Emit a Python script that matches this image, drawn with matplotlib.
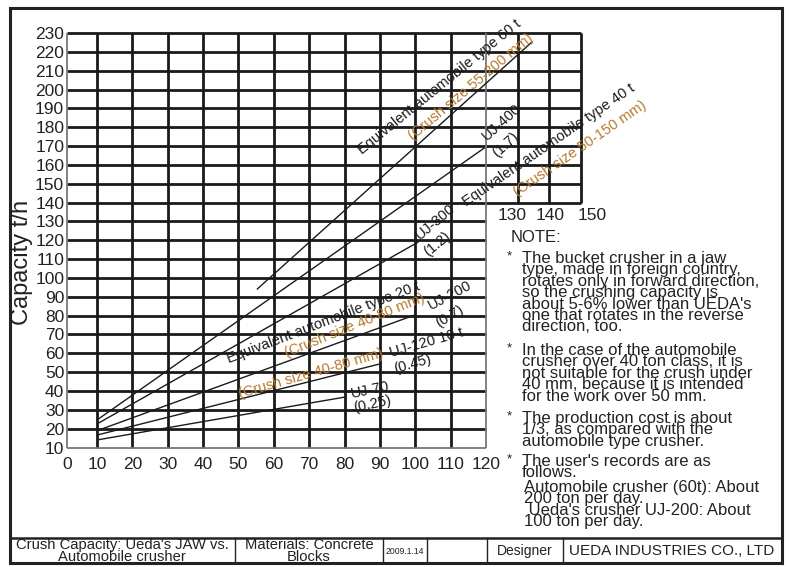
import numpy as np
import matplotlib.pyplot as plt
from matplotlib.lines import Line2D
from matplotlib.patches import Rectangle

plt.rcParams['font.family'] = ['Liberation Sans', 'DejaVu Sans']

# the drawing's x axis is not even: 0-10 is squeezed and so is 120-150
x_breaks = [0, 10, 120, 160]
x_pixels = [0, 30, 419, 545.7]

# crusher capacity lines, start and end points
line_names = ['Auto 60t', 'UJ-400', 'UJ-300', 'UJ-200', 'UJ-120', 'UJ-70']
line_x = [[55.2, 134.7], [10, 119.7], [10, 100.9], [10, 99.8], [10, 90.5], [10, 80.5]]
line_y = [[93.9, 225.5], [24.6, 169.2], [22.5, 119.1], [18.9, 80.3], [16.6, 54.6], [14.0, 36.9]]

x_ticks = list(range(0, 121, 10))
x_ticks_ext = [130, 140, 150]
x_ticks_ext_pos = [128.4, 140.2, 153.5]   # the printed labels sit a bit off the lines
y_ticks = list(range(10, 231, 10))

black = '#1a1a1a'
text_col = '#222222'
orange = '#b77a2d'

# labels along the lines: text, x, y, rotation, colour
line_labels = [
    ("Equivalent automobile type 60 t", 85.0, 165.5, 39, black),
    ("(Crush size 55-200 mm)", 99.4, 173.0, 40, orange),
    ("UJ-400", 120.3, 172.5, 42, black),
    ("(1.7)", 123.5, 164.0, 42, black),
    ("Equivalent automobile type 40 t", 114.4, 138.0, 34.5, black),
    ("(Crush size 50-150 mm)", 129.9, 143.0, 34.5, orange),
    ("UJ-300", 101.3, 120.0, 40, black),
    ("(1.2)", 103.6, 111.5, 40, black),
    ("Equivalent automobile type 20 t", 47.3, 54.8, 21, black),
    ("(Crush size 40-80 mm)", 63.7, 58.0, 22, orange),
    ("UJ-200", 104.4, 82.9, 28, black),
    ("(0.7)", 106.7, 73.9, 30, black),
    ("(Crush size 40-80 mm)", 50.4, 36.2, 16, orange),
    ("UJ-120 10 t", 93.1, 58.0, 16, black),
    ("(0.45)", 94.3, 49.5, 16, black),
    ("UJ-70", 82.1, 36.2, 12, black),
    ("(0.25)", 82.7, 28.8, 12, black),
]

notes = [
    "The bucket crusher in a jaw\ntype, made in foreign country,\nrotates only in forward direction,\n"
    "so the crushing capacity is\nabout 5-6% lower than UEDA's\none that rotates in the reverse\ndirection, too.",
    "In the case of the automobile\ncrusher over 40 ton class, it is\nnot suitable for the crush under\n"
    "40 mm, because it is intended\nfor the work over 50 mm.",
    "The production cost is about\n1/3, as compared with the\nautomobile type crusher.",
    "The user's records are as\nfollows.",
]
records = "Automobile crusher (60t): About\n200 ton per day.\n Ueda's crusher UJ-200: About\n100 ton per day."

footer = [
    ("Crush Capacity: Ueda's JAW vs.\nAutomobile crusher", 122, 10.6),
    ("Materials: Concrete\nBlocks", 309, 10.6),
    ("2009.1.14", 405, 6.2),
    ("Designer", 525, 10),
    ("UEDA INDUSTRIES CO., LTD", 672, 11),
]

W, H = 789, 567
fig = plt.figure(figsize=(W / 100, H / 100), dpi=100)


def fx(px):
    return px / W


def fy(py):
    return 1 - py / H


ax = fig.add_axes([fx(67), fy(447.5), 514 / W, (447.5 - 33) / H])
ax.set_xscale('function', functions=(lambda v: np.interp(v, x_breaks, x_pixels),
                                     lambda p: np.interp(p, x_pixels, x_breaks)))
ax.set_xlim(0, 150)
ax.set_ylim(10, 230)
for s in ax.spines.values():
    s.set_visible(False)

# grid
gw = 2.0
for xv in x_ticks[1:-1]:
    ax.vlines(xv, 10, 230, color=black, lw=gw, clip_on=False, zorder=1)
for xv in x_ticks_ext:
    ax.vlines(xv, 140, 230, color=black, lw=gw, clip_on=False, zorder=1)
for yv in y_ticks[1:]:
    ax.hlines(yv, 0, 150 if yv >= 140 else 120, color=black, lw=gw, clip_on=False, zorder=1)
ax.vlines(120, 10, 230, color='#777777', lw=1.3, clip_on=False, zorder=1)
ax.vlines(0, 10, 230, color='#777777', lw=1.3, clip_on=False, zorder=1)
ax.hlines(10, 0, 120, color='#777777', lw=1.3, clip_on=False, zorder=1)

for name, xs, ys in zip(line_names, line_x, line_y):
    ax.plot(xs, ys, color=black, lw=1.0, zorder=3, solid_capstyle='butt')

for txt, x, y, rot, col in line_labels:
    ax.text(x, y, txt, color=col, fontsize=10.5, rotation=rot, rotation_mode='anchor',
            ha='left', va='baseline', zorder=4)

ax.set_xticks(x_ticks)
ax.set_yticks(y_ticks)
ax.tick_params(length=0, labelsize=12.5, colors=text_col)
ax.tick_params(axis='x', pad=7)
ax.tick_params(axis='y', pad=2)
for xv, xp in zip(x_ticks_ext, x_ticks_ext_pos):
    ax.text(xp, 137.3, str(xv), fontsize=12.5, ha='center', va='top', color=text_col,
            clip_on=False)

fig.text(fx(22), fy(262), "Capacity t/h", rotation=90, fontsize=17, ha='center', va='center',
         color=text_col)

# notes on the right
fig.text(fx(511), fy(242), "NOTE:", fontsize=12, ha='left', va='baseline', color=text_col)
note_tops = [251, 343, 411, 454]
for top, body in zip(note_tops, notes):
    fig.text(fx(507), fy(top - 1), "*", fontsize=9.5, ha='left', va='top', color=text_col)
    fig.text(fx(522), fy(top), body, fontsize=12, ha='left', va='top', linespacing=0.70,
             color=text_col)
fig.text(fx(524), fy(480), records, fontsize=12, ha='left', va='top', linespacing=0.70,
         color=text_col)

# outer frame and title block
fig.add_artist(Rectangle((fx(10), fy(563)), (782 - 10) / W, (563 - 8) / H, transform=fig.transFigure,
                         fill=False, lw=2.2, edgecolor='#222222'))
fig.add_artist(Line2D([fx(10), fx(782)], [fy(538), fy(538)], color='#222222', lw=1.8))
for xd in [235, 383, 427, 487, 563]:
    fig.add_artist(Line2D([fx(xd), fx(xd)], [fy(538), fy(563)], color='#222222', lw=1.0))
for txt, xc, fs in footer:
    fig.text(fx(xc), fy(551), txt, fontsize=fs, ha='center', va='center', linespacing=0.9,
             color=text_col)

fig.savefig('out.png', dpi=100, facecolor='white')
